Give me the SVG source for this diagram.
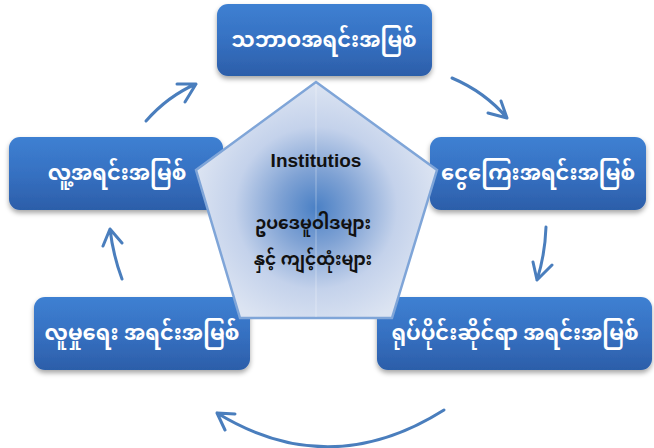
<svg xmlns="http://www.w3.org/2000/svg" width="654" height="448" viewBox="0 0 654 448">
<defs>
<style>
.box{fill:url(#boxg);filter:url(#sh);}
.lbl{font-family:"Noto Sans Myanmar","Padauk","Myanmar Text","Noto Sans","DejaVu Sans",sans-serif;font-size:21px;font-weight:bold;fill:#ffffff;text-anchor:middle;}
.ctr{font-family:"Noto Sans Myanmar","Padauk","Myanmar Text","Noto Sans","DejaVu Sans",sans-serif;font-size:17px;font-weight:bold;fill:#111111;text-anchor:middle;}
.arr{fill:none;stroke:#4a7ebd;stroke-width:3;stroke-linecap:round;stroke-linejoin:round;}
</style>
<linearGradient id="boxg" x1="0" y1="0" x2="0" y2="1">
<stop offset="0" stop-color="#3e80d2"/>
<stop offset="0.5" stop-color="#3671c2"/>
<stop offset="1" stop-color="#2c5ea9"/>
</linearGradient>
<radialGradient id="pg" cx="316" cy="208" r="125" gradientUnits="userSpaceOnUse">
<stop offset="0" stop-color="#4a80c5"/>
<stop offset="0.3" stop-color="#7fa2d4"/>
<stop offset="0.65" stop-color="#c4d2eb"/>
<stop offset="1" stop-color="#dce4f2"/>
</radialGradient>
<filter id="sh" x="-10%" y="-10%" width="120%" height="140%">
<feDropShadow dx="0" dy="3" stdDeviation="2.5" flood-color="#000000" flood-opacity="0.35"/>
</filter>
</defs>
<rect width="654" height="448" fill="#ffffff"/>
<g id="connectors">
<path class="arr" d="M146,121 Q168,96 196,84 M177,84 L196,84 L185,102"/>
<path class="arr" d="M452,78 Q485,92 507,118 M488,113 L507,118 L501,101"/>
<path class="arr" d="M546,227 Q545,255 537,280 M533,262 L537,280 L552,265"/>
<path class="arr" d="M444,410 Q330,482 217,413 M235,414 L217,413 L225,430"/>
<path class="arr" d="M122,279 Q113,255 110,229 M103,246 L110,229 L122,243"/>
</g>
<g id="node-natural">
<rect class="box" x="217" y="4" width="215" height="72" rx="11"/>
<text class="lbl" x="324" y="47">သဘာဝအရင်းအမြစ်</text>
</g>
<g id="node-financial">
<rect class="box" x="430" y="137" width="216" height="73" rx="11"/>
<text class="lbl" x="538" y="180">ငွေကြေးအရင်းအမြစ်</text>
</g>
<g id="node-physical">
<rect class="box" x="377" y="297" width="275" height="73" rx="11"/>
<text class="lbl" x="515" y="340">ရုပ်ပိုင်းဆိုင်ရာ အရင်းအမြစ်</text>
</g>
<g id="node-social">
<rect class="box" x="34" y="297" width="216" height="73" rx="11"/>
<text class="lbl" x="142" y="340">လူမှုရေး အရင်းအမြစ်</text>
</g>
<g id="node-human">
<rect class="box" x="9" y="137" width="214" height="73" rx="11"/>
<text class="lbl" x="117" y="180">လူ့အရင်းအမြစ်</text>
</g>
<g id="node-institutions">
<polygon points="316,82 437,170 392,318 240,318 196,170" fill="url(#pg)" stroke="#7fa5d8" stroke-width="2.5" stroke-linejoin="miter"/>
<line x1="316" y1="84" x2="316" y2="317" stroke="#ffffff" stroke-opacity="0.35" stroke-width="1"/>
<text x="316" y="167" font-family="Liberation Sans, Arial, sans-serif" font-size="19" font-weight="bold" fill="#111111" text-anchor="middle">Institutios</text>
<text class="ctr" x="313" y="229">ဥပဒေမူဝါဒများ</text>
<text class="ctr" x="313" y="265">နှင့် ကျင့်ထုံးများ</text>
</g>
</svg>
